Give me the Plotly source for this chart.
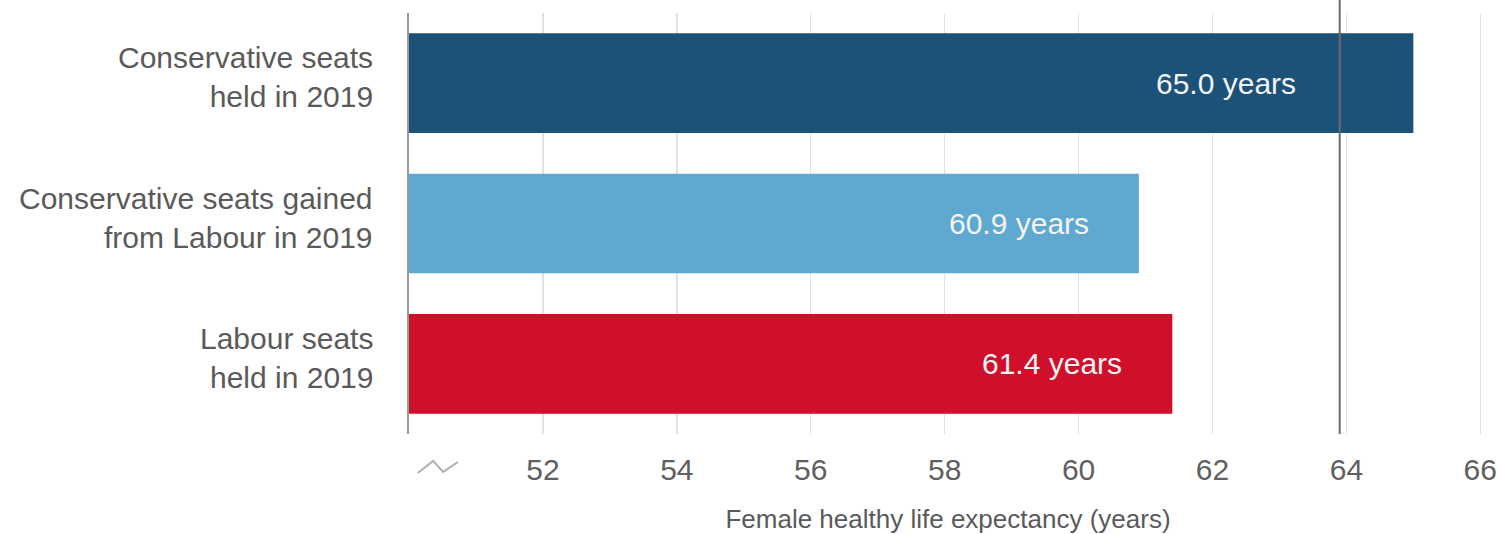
import plotly.graph_objects as go

categories = ["Conservative seats<br>held in 2019",
              "Conservative seats gained<br>from Labour in 2019",
              "Labour seats<br>held in 2019"]
values = [65.0, 60.9, 61.4]
bar_colors = ["#1c5178", "#5fa8cf", "#d0102b"]
value_labels = ["65.0 years", "60.9 years", "61.4 years"]
reference_value = 63.9
tick_values = [50, 52, 54, 56, 58, 60, 62, 64, 66]
tick_text = ["", "52", "54", "56", "58", "60", "62", "64", "66"]
x_title = "Female healthy life expectancy (years)"
x_min, x_max = 50, 66.1

FONT = "Liberation Sans, Arial, sans-serif"

fig = go.Figure()
fig.add_trace(go.Bar(
    y=categories, x=[v - x_min for v in values], base=x_min,
    orientation="h", marker=dict(color=bar_colors, line=dict(width=0)),
    width=0.71, hoverinfo="skip",
))

annotations = []
for cat, v, lab in zip(categories, values, value_labels):
    off = 1.72 if v > reference_value else 0.72
    annotations.append(dict(
        x=v - off, y=cat, xref="x", yref="y", text=lab, showarrow=False,
        xanchor="right", yanchor="middle",
        font=dict(family=FONT, size=30, color="#f2f4f7"),
    ))
    annotations.append(dict(
        x=0, y=cat, xref="paper", yref="y", text=cat, showarrow=False,
        xanchor="right", yanchor="middle", align="right", xshift=-34, yshift=6,
        font=dict(family=FONT, size=30, color="#5a5a5a"),
    ))

shapes = [
    dict(type="line", xref="x", yref="paper", x0=reference_value, x1=reference_value,
         y0=0, y1=1.031, line=dict(color="#6c6c6c", width=2), layer="above"),
    dict(type="path", xref="x", yref="paper",
         path="M 50.13 -0.0926 L 50.36 -0.064 L 50.51 -0.090 L 50.73 -0.0665",
         line=dict(color="#b0b0b0", width=2)),
]

fig.update_layout(
    width=1501, height=534, autosize=False,
    margin=dict(l=409, r=14, t=13, b=100),
    paper_bgcolor="white", plot_bgcolor="white",
    showlegend=False,
    annotations=annotations, shapes=shapes,
    font=dict(family=FONT, color="#5a5a5a"),
    xaxis=dict(
        range=[x_min, x_max], tickvals=tick_values, ticktext=tick_text,
        showgrid=True, gridcolor="#e2e2e2", gridwidth=1.5, zeroline=False,
        ticks="", tickfont=dict(family=FONT, size=30, color="#5f5f5f"),
        ticklabelstandoff=15, automargin=False,
        title=dict(text=x_title, font=dict(family=FONT, size=26, color="#5a5a5a"), standoff=29),
        fixedrange=True,
    ),
    yaxis=dict(
        range=[2.5, -0.5], showline=True, linecolor="#9a9a9a", linewidth=2,
        ticks="", showticklabels=False, showgrid=False, zeroline=False,
        automargin=False, fixedrange=True,
    ),
)

fig.write_html(
    "out.html",
    config={"responsive": False, "displayModeBar": False, "staticPlot": True},
    post_script="document.body.style.margin='0';document.body.style.overflow='hidden';",
)
